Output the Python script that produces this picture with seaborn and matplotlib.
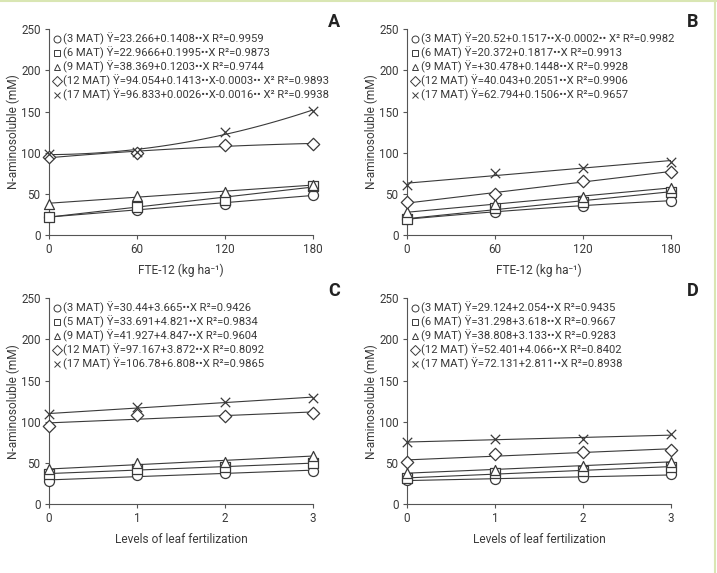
import numpy as np
import pandas as pd
import matplotlib.pyplot as plt
import seaborn as sns
from matplotlib.lines import Line2D

# data
x_fte = [0, 60, 120, 180]
x_lvl = [0, 1, 2, 3]

a_vals = [[22.3, 30.4, 37.7, 49.0],
          [22.3, 34.4, 43.0, 60.0],
          [37.7, 47.4, 52.7, 60.4],
          [94.4, 100.0, 109.4, 110.6],
          [98.5, 101.3, 124.8, 151.0]]
b_vals = [[19.0, 28.4, 35.3, 41.7],
          [19.0, 32.4, 40.5, 52.7],
          [27.6, 37.7, 46.6, 57.5],
          [39.7, 49.4, 65.6, 77.0],
          [60.8, 75.0, 81.8, 89.1]]
c_vals = [[28.0, 34.8, 38.0, 40.1],
          [36.0, 43.0, 45.0, 49.4],
          [42.0, 49.4, 51.5, 58.8],
          [95.2, 108.2, 107.4, 110.2],
          [109.0, 117.9, 123.6, 129.3]]
d_vals = [[29.2, 30.0, 32.4, 36.0],
          [31.2, 37.3, 40.5, 45.4],
          [38.0, 41.3, 46.6, 51.5],
          [51.5, 60.8, 63.6, 65.6],
          [75.8, 78.6, 78.6, 85.1]]

a_orders = [1, 1, 1, 2, 2]
b_orders = [2, 1, 1, 1, 1]
c_orders = [1, 1, 1, 1, 1]
d_orders = [1, 1, 1, 1, 1]

a_labels = ['(3 MAT) Ÿ=23.266+0.1408••X R²=0.9959',
            '(6 MAT) Ÿ=22.9666+0.1995••X R²=0.9873',
            '(9 MAT) Ÿ=38.369+0.1203••X R²=0.9744',
            '(12 MAT) Ÿ=94.054+0.1413••X-0.0003•• X² R²=0.9893',
            '(17 MAT) Ÿ=96.833+0.0026••X-0.0016•• X² R²=0.9938']
b_labels = ['(3 MAT) Ÿ=20.52+0.1517••X-0.0002•• X² R²=0.9982',
            '(6 MAT) Ÿ=20.372+0.1817••X R²=0.9913',
            '(9 MAT) Ÿ=+30.478+0.1448••X R²=0.9928',
            '(12 MAT) Ÿ=40.043+0.2051••X R²=0.9906',
            '(17 MAT) Ÿ=62.794+0.1506••X R²=0.9657']
c_labels = ['(3 MAT) Ÿ=30.44+3.665••X R²=0.9426',
            '(5 MAT) Ÿ=33.691+4.821••X R²=0.9834',
            '(9 MAT) Ÿ=41.927+4.847••X R²=0.9604',
            '(12 MAT) Ÿ=97.167+3.872••X R²=0.8092',
            '(17 MAT) Ÿ=106.78+6.808••X R²=0.9865']
d_labels = ['(3 MAT) Ÿ=29.124+2.054••X R²=0.9435',
            '(6 MAT) Ÿ=31.298+3.618••X R²=0.9667',
            '(9 MAT) Ÿ=38.808+3.133••X R²=0.9283',
            '(12 MAT) Ÿ=52.401+4.066••X R²=0.8402',
            '(17 MAT) Ÿ=72.131+2.811••X R²=0.8938']

markers = ['o', 's', '^', 'D', 'x']
msizes = [52, 44, 52, 40, 46]

sns.set_style('ticks')
plt.rcParams['font.family'] = ['Roboto', 'DejaVu Sans']
ink = '#3a3a3a'

fig = plt.figure(figsize=(7.17, 5.73), dpi=100)

# axes boxes in figure fraction
w, h = 0.368, 0.359
panels = [
    ('A', [0.0683, 0.590, w, h], x_fte, a_vals, a_orders, a_labels, 'FTE-12 (kg ha⁻¹)', 180),
    ('B', [0.5676, 0.590, w, h], x_fte, b_vals, b_orders, b_labels, 'FTE-12 (kg ha⁻¹)', 180),
    ('C', [0.0683, 0.1204, w, h], x_lvl, c_vals, c_orders, c_labels, 'Levels of leaf fertilization', 3),
    ('D', [0.5676, 0.1204, w, h], x_lvl, d_vals, d_orders, d_labels, 'Levels of leaf fertilization', 3),
]

for tag, box, xs, vals, orders, labels, xlab, xmax in panels:
    ax = fig.add_axes(box)
    for i, ys in enumerate(vals):
        df = pd.DataFrame({'x': xs, 'y': ys})
        sns.regplot(data=df, x='x', y='y', order=orders[i], ci=None, scatter=False,
                    color=ink, line_kws={'lw': 0.8}, ax=ax)
        if markers[i] == 'x':
            sns.scatterplot(data=df, x='x', y='y', marker='x', s=msizes[i], color=ink,
                            linewidth=0.9, clip_on=False, zorder=3, ax=ax)
        else:
            sns.scatterplot(data=df, x='x', y='y', marker=markers[i], s=msizes[i],
                            facecolor='white', edgecolor=ink, linewidth=0.9,
                            clip_on=False, zorder=3, ax=ax)
    ax.set_xlim(0, xmax)
    ax.set_ylim(0, 250)
    ax.set_xticks(xs)
    ax.set_yticks([0, 50, 100, 150, 200, 250])
    sns.despine(ax=ax)
    for s in ['left', 'bottom']:
        ax.spines[s].set_color('#555555')
        ax.spines[s].set_linewidth(0.8)
    ax.tick_params(direction='out', length=3, width=0.8, color='#555555',
                   labelsize=8.4, labelcolor=ink, pad=3)
    ax.set_xlabel(xlab, fontsize=8.6, color=ink, labelpad=5.5)
    ax.set_ylabel('N-aminosoluble (mM)', fontsize=8.6, color=ink, labelpad=0.8)

    handles = [Line2D([], [], marker=m, ls='none', ms=5,
                      mfc='none' if m != 'x' else ink, mec=ink, mew=0.7)
               for m in markers]
    leg = ax.legend(handles, labels, loc='upper left', bbox_to_anchor=(0.005, 1.0),
                    frameon=False, fontsize=8.1, handlelength=0.6, handletextpad=0.2,
                    labelspacing=0.14, borderaxespad=0.1, borderpad=0.2,
                    labelcolor=ink)

    fig.text(box[0] + w + 0.03, box[1] + h + 0.012, tag, fontsize=13,
             fontweight='bold', color='#222222', ha='center', va='center')

# thin light green frame on top and right edges
fig.add_artist(Line2D([0, 1], [0.999, 0.999], transform=fig.transFigure,
                      color='#d9e6b3', lw=1.5))
fig.add_artist(Line2D([0.997, 0.997], [0, 1], transform=fig.transFigure,
                      color='#d9e6b3', lw=1.5))

fig.savefig('out.png', dpi=100)
